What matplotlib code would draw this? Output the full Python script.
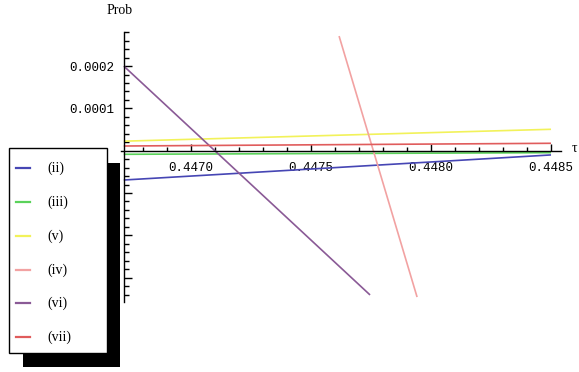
import matplotlib
matplotlib.use("Agg")
import matplotlib.pyplot as plt
from matplotlib.lines import Line2D
from matplotlib.patches import Rectangle
from matplotlib.ticker import FixedLocator

# series: (label, x range, y values at the two ends)
labels = ["(ii)", "(iii)", "(v)", "(iv)", "(vi)", "(vii)"]
x_start = [0.44672, 0.44672, 0.44672, 0.447617, 0.44672, 0.44672]
x_end = [0.4485, 0.4485, 0.4485, 0.447942, 0.447746, 0.4485]
y_start = [-0.0000693, -0.0000085, 0.0000225, 0.000271, 0.0002, 0.0000111]
y_end = [-0.0000100, -0.0000047, 0.0000506, -0.000346, -0.000341, 0.0000175]
colors = ["#4646b4", "#5ad25a", "#f2f25a", "#f2a2a2", "#8a5a96", "#e05c5c"]

x_ticks = [0.4470, 0.4475, 0.4480, 0.4485]
x_tick_labels = ["0.4470", "0.4475", "0.4480", "0.4485"]
# negative labels sit behind the legend in the original, so they stay blank
y_ticks = [-0.0003, -0.0002, -0.0001, 0.0001, 0.0002]
y_tick_labels = ["", "", "", "0.0001", "0.0002"]

W, H = 579, 372
fig = plt.figure(figsize=(W / 100, H / 100), dpi=100)
ax = fig.add_axes([0, 0, 1, 1])
ax.set_facecolor("white")

# pixel mapping: 0.0005 in x = 120 px, 0.0001 in y = 42.3 px
xpp = 0.0005 / 120
ypp = 0.0001 / 42.3
ax.set_xlim(0.4470 - 191 * xpp, 0.4470 + (W - 191) * xpp)
ax.set_ylim(-(H - 150.7) * ypp, 150.7 * ypp)

for lab, xs, xe, ys, ye, c in zip(labels, x_start, x_end, y_start, y_end, colors):
    ax.plot([xs, xe], [ys, ye], color=c, lw=1.2, solid_capstyle="butt", zorder=2)

ax.spines["top"].set_visible(False)
ax.spines["right"].set_visible(False)
ax.spines["left"].set_position(("data", 0.44672))
ax.spines["bottom"].set_position(("data", 0.0))
ax.spines["left"].set_bounds(-0.000358, 0.000281)
ax.spines["bottom"].set_bounds(0.44671, 0.44854)
for s in ("left", "bottom"):
    ax.spines[s].set_linewidth(1.0)
    ax.spines[s].set_zorder(3)

mono = {"family": "Liberation Mono", "size": 9}
ax.xaxis.set_major_locator(FixedLocator(x_ticks))
ax.set_xticklabels(x_tick_labels, fontdict=mono)
ax.yaxis.set_major_locator(FixedLocator(y_ticks))
ax.set_yticklabels(y_tick_labels, fontdict=mono)
ax.yaxis.set_minor_locator(FixedLocator(
    [k * 0.00002 for k in range(-17, 15) if k % 5 != 0]))
ax.xaxis.set_minor_locator(FixedLocator(
    [0.4467 + k * 0.0001 for k in range(1, 19) if k % 5 != 3]))
ax.tick_params(axis="x", which="major", direction="in", length=5, width=1, pad=8)
ax.tick_params(axis="x", which="minor", direction="in", length=3, width=1)
ax.tick_params(axis="y", which="major", direction="in", length=6, width=1, pad=7)
ax.tick_params(axis="y", which="minor", direction="in", length=3.5, width=1)

serif = "Liberation Serif"
fig.text(120 / W, 1 - 11 / H, "Prob", family=serif, size=10, ha="center", va="center")
fig.text(572 / W, 1 - 148 / H, "τ", family=serif, size=10, ha="left", va="center")

# legend with black drop shadow, drawn in figure pixels
def px_rect(x0, y0, x1, y1, **kw):
    return Rectangle((x0 / W, 1 - y1 / H), (x1 - x0) / W, (y1 - y0) / H,
                     transform=fig.transFigure, **kw)

fig.patches.append(px_rect(23, 163, 120, 367, facecolor="black", edgecolor="none", zorder=10))
fig.patches.append(px_rect(9, 148, 107, 353, facecolor="white", edgecolor="black",
                           lw=1.0, zorder=11))
row_y = [168, 202, 236, 270, 303, 337]
for lab, c, yy in zip(labels, colors, row_y):
    fig.lines.append(Line2D([16 / W, 30 / W], [1 - yy / H] * 2, color=c, lw=1.6,
                            transform=fig.transFigure, zorder=12))
    fig.text(47 / W, 1 - yy / H, lab, family=serif, size=10, ha="left", va="center",
             zorder=12)

fig.savefig("out.png", dpi=100, facecolor="white")
